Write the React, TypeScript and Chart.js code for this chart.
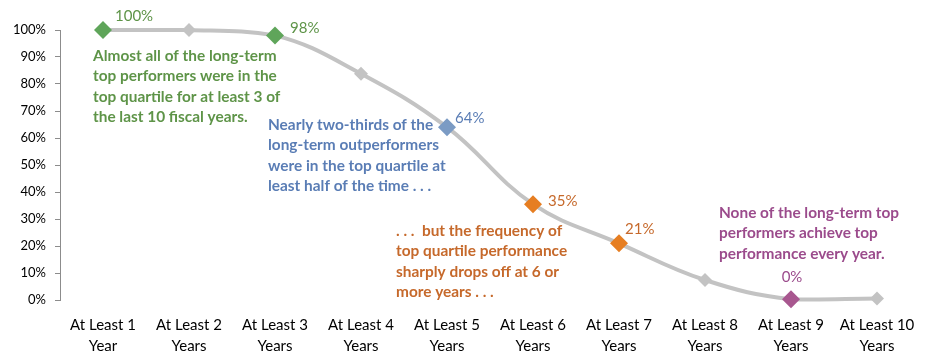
import React, { useEffect, useRef } from "react";
import { Chart, registerables } from "chart.js";

Chart.register(...registerables);

const categories: string[][] = [
  ["At Least 1", "Year"],
  ["At Least 2", "Years"],
  ["At Least 3", "Years"],
  ["At Least 4", "Years"],
  ["At Least 5", "Years"],
  ["At Least 6", "Years"],
  ["At Least 7", "Years"],
  ["At Least 8", "Years"],
  ["At Least 9", "Years"],
  ["At Least 10", "Years"],
];
const values: number[] = [100, 100, 98, 83.8, 64, 35.5, 21, 7.4, 0.3, 0.6];
const valueLabels: (string | null)[] = ["100%", null, "98%", null, "64%", "35%", "21%", null, "0%", null];
const highlightColors: (string | null)[] = ["#5FA55A", null, "#5FA55A", null, "#7B9BC4", "#E67E22", "#E67E22", null, "#A8578F", null];
const labelColors: (string | null)[] = ["#5E9448", null, "#5E9448", null, "#5A7DB5", "#C6692B", "#C6692B", null, "#9B4B8C", null];
const yTicks: number[] = [0, 10, 20, 30, 40, 50, 60, 70, 80, 90, 100];

const notes = [
  { lines: ["Almost all of the long-term", "top performers were in the", "top quartile for at least 3 of", "the last 10 fiscal years."], color: "#5E9448" },
  { lines: ["Nearly two-thirds of the", "long-term outperformers", "were in the top quartile at", "least half of the time . . ."], color: "#5A7DB5" },
  { lines: [". . .  but the frequency of", "top quartile performance", "sharply drops off at 6 or", "more years . . ."], color: "#C6692B" },
  { lines: ["None of the long-term top", "performers achieve top", "performance every year."], color: "#9B4B8C" },
];

const FONT = "Lato, 'Open Sans', sans-serif";

export default function App() {
  const ref = useRef<HTMLCanvasElement | null>(null);
  useEffect(() => {
    if (!ref.current) return;
    const labelOffsets: Record<number, [number, number, string]> = {
      0: [12, -14, "left"],
      2: [15, -7, "left"],
      4: [8, -9, "left"],
      5: [15, -3, "left"],
      6: [6, -14, "left"],
      8: [1, -22, "center"],
    };
    const noteAnchors: { idx: number; dx: number; dy: number }[] = [
      { idx: 0, dx: -10, dy: 26 },
      { idx: 4, dx: -179, dy: -2 },
      { idx: 5, dx: -137, dy: 27 },
      { idx: 8, dx: -72, dy: -86 },
    ];
    const annotPlugin = {
      id: "annot",
      afterDatasetsDraw(chart: any) {
        const ctx = chart.ctx;
        const xs = chart.scales.x;
        const ys = chart.scales.y;
        ctx.save();
        ctx.textBaseline = "middle";
        ctx.font = `15px ${FONT}`;
        values.forEach((v, i) => {
          const lab = valueLabels[i];
          if (!lab) return;
          const o = labelOffsets[i];
          ctx.fillStyle = labelColors[i] || "#000";
          ctx.textAlign = o[2];
          ctx.fillText(lab, xs.getPixelForValue(i) + o[0], ys.getPixelForValue(v) + o[1]);
        });
        ctx.font = `bold 15.4px ${FONT}`;
        ctx.textAlign = "left";
        notes.forEach((n, k) => {
          const a = noteAnchors[k];
          const x0 = xs.getPixelForValue(a.idx) + a.dx;
          const y0 = ys.getPixelForValue(values[a.idx]) + a.dy;
          ctx.fillStyle = n.color;
          n.lines.forEach((t, j) => ctx.fillText(t, x0, y0 + j * 20.3));
        });
        ctx.restore();
      },
    };
    const chart = new Chart(ref.current, {
      type: "line",
      data: {
        labels: categories,
        datasets: [
          {
            data: values,
            clip: false,
            borderColor: "#C3C3C3",
            borderWidth: 4,
            tension: 0.4,
            pointStyle: "rectRot",
            pointRadius: values.map((_, i) => (highlightColors[i] ? 9 : 7)),
            pointBackgroundColor: values.map((_, i) => highlightColors[i] || "#C3C3C3"),
            pointBorderColor: values.map((_, i) => highlightColors[i] || "#C3C3C3"),
            pointBorderWidth: 0,
          },
        ],
      },
      options: {
        responsive: false,
        animation: false,
        layout: { padding: { top: 30, right: 11, left: 0, bottom: 0 } },
        plugins: { legend: { display: false }, tooltip: { enabled: false } },
        scales: {
          x: {
            offset: true,
            grid: { display: false, drawTicks: false },
            border: { display: false },
            ticks: { color: "#000", font: { family: FONT, size: 15, lineHeight: 1.4 }, padding: 15, maxRotation: 0, autoSkip: false },
            afterFit: (s: any) => { s.height = 62; },
          },
          y: {
            min: 0,
            max: 100,
            afterBuildTicks: (s: any) => { s.ticks = yTicks.map((v) => ({ value: v })); },
            grid: { drawOnChartArea: false, drawTicks: true, tickLength: 5, color: "#8C8C8C" },
            border: { display: true, color: "#8C8C8C", width: 1 },
            ticks: { color: "#000", font: { family: FONT, size: 13 }, padding: 9, callback: (v: any) => v + "%" },
            afterFit: (s: any) => { s.width = 60; },
          },
        },
      },
      plugins: [annotPlugin],
    });
    return () => chart.destroy();
  }, []);
  return (
    <div style={{ position: "absolute", left: 0, top: 0, width: 931, height: 362, background: "#fff" }}>
      <canvas ref={ref} width={931} height={362} />
    </div>
  );
}
